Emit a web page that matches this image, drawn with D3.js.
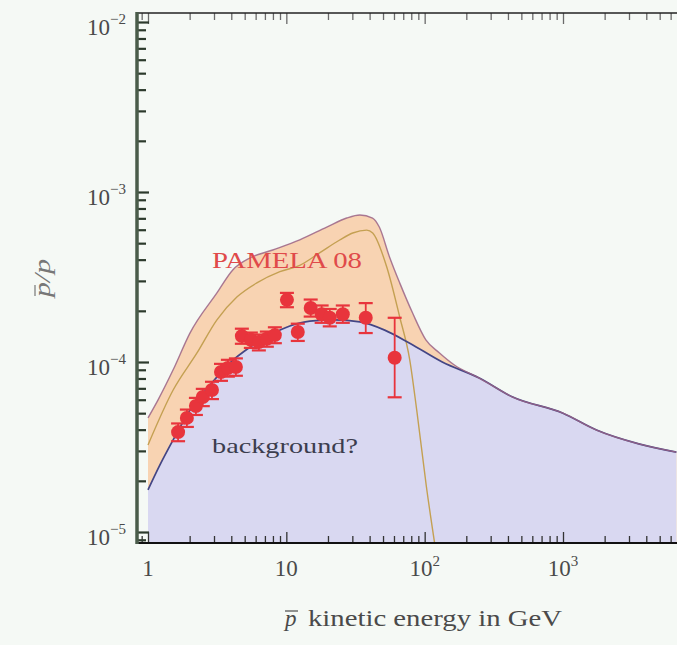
<!DOCTYPE html>
<html><head><meta charset="utf-8">
<script src="https://cdn.jsdelivr.net/npm/d3@7"></script>
<style>
html,body{margin:0;padding:0;background:#f5f9f5;}
svg{display:block;}
</style></head><body>
<svg id="c" width="677" height="645"></svg>
<script>
// ---------- data ----------
const bgE = [1, 1.22, 1.52, 2.01, 2.8, 3.9, 5.45, 7.6, 10.6, 14.8, 22.4, 34, 51.4, 78, 134, 248, 433, 1000, 1747, 3530, 6600];
const bgV = [1.77e-5, 2.48e-5, 3.48e-5, 5.2e-5, 7.3e-5, 9.86e-5, 1.22e-4, 1.44e-4, 1.63e-4, 1.74e-4, 1.77e-4, 1.72e-4, 1.54e-4, 1.29e-4, 1.0e-4, 8.05e-5, 6.22e-5, 5.0e-5, 3.98e-5, 3.3e-5, 2.95e-5];

const totE = [1, 1.18, 1.52, 2.01, 3.15, 4.1, 5.45, 7.97, 12.5, 19.6, 27.3, 34, 42, 47, 55.7, 66, 81.8, 102, 128, 164, 248, 433, 1000, 1747, 3530, 6600];
const totV = [4.69e-5, 5.97e-5, 9.0e-5, 1.48e-4, 2.55e-4, 3.48e-4, 4.09e-4, 4.56e-4, 5.23e-4, 6.22e-4, 7.03e-4, 7.32e-4, 7.03e-4, 6.22e-4, 4.15e-4, 2.92e-4, 1.94e-4, 1.35e-4, 1.13e-4, 9.6e-5, 8.05e-5, 6.22e-5, 5.0e-5, 3.98e-5, 3.3e-5, 2.95e-5];

const sigE = [1, 1.52, 2.26, 3.15, 4.39, 6.12, 8.98, 12.5, 17.5, 24.3, 30.2, 38.1, 42.1, 53.2, 66, 78, 87.6, 103, 118];
const sigV = [3.25e-5, 6.84e-5, 1.13e-4, 1.77e-4, 2.41e-4, 2.92e-4, 3.4e-4, 3.7e-4, 4.4e-4, 5.22e-4, 5.74e-4, 5.97e-4, 5.74e-4, 3.62e-4, 1.84e-4, 1.03e-4, 5.22e-5, 1.84e-5, 8.6e-6];

const pamE  = [1.65, 1.91, 2.22, 2.49, 2.90, 3.37, 3.78, 4.32, 4.77, 5.54, 6.33, 7.23, 8.26, 10.1, 12.1, 15.0, 18.0, 20.6, 25.6, 37.5, 60.7];
const pamV  = [3.87e-5, 4.69e-5, 5.51e-5, 6.22e-5, 6.84e-5, 8.73e-5, 9.22e-5, 9.35e-5, 1.42e-4, 1.35e-4, 1.31e-4, 1.37e-4, 1.44e-4, 2.32e-4, 1.50e-4, 2.08e-4, 1.91e-4, 1.82e-4, 1.91e-4, 1.82e-4, 1.06e-4];
const pamHi = [4.35e-5, 5.25e-5, 6.15e-5, 6.95e-5, 7.65e-5, 9.75e-5, 1.03e-4, 1.05e-4, 1.57e-4, 1.49e-4, 1.45e-4, 1.51e-4, 1.60e-4, 2.55e-4, 1.68e-4, 2.33e-4, 2.15e-4, 2.05e-4, 2.15e-4, 2.22e-4, 1.82e-4];
const pamLo = [3.42e-5, 4.15e-5, 4.88e-5, 5.5e-5, 6.05e-5, 7.75e-5, 8.2e-5, 8.3e-5, 1.28e-4, 1.21e-4, 1.17e-4, 1.23e-4, 1.29e-4, 2.1e-4, 1.33e-4, 1.85e-4, 1.70e-4, 1.62e-4, 1.70e-4, 1.48e-4, 6.2e-5];

const xTickValues = [1, 10, 100, 1000];
const xTickBase   = ["1", "10", "10", "10"];
const xTickSup    = ["", "", "2", "3"];
const yTickValues = [1e-5, 1e-4, 1e-3, 1e-2];
const yTickSup    = ["\u22125", "\u22124", "\u22123", "\u22122"];

(function () {
// ---------- layout ----------
const svg = d3.select("#c");
const L = 137, T = 13, B = 543, R = 700;
const x = d3.scaleLog().domain([1, 1000]).range([148, 563]);
const y = d3.scaleLog().domain([1e-5, 1e-3]).range([532, 192]);
const serif = "'Liberation Serif','Times New Roman',Tinos,serif";

svg.append("rect").attr("width", 677).attr("height", 645).attr("fill", "#f5f9f5");

svg.append("clipPath").attr("id", "clip").append("rect")
  .attr("x", L).attr("y", T).attr("width", R - L).attr("height", B - T);
const g = svg.append("g").attr("clip-path", "url(#clip)");

const zip = (E, V) => E.map((e, i) => [e, V[i]]);
const area = d3.area().x(d => x(d[0])).y0(B).y1(d => y(d[1])).curve(d3.curveMonotoneX);
const line = d3.line().x(d => x(d[0])).y(d => y(d[1])).curve(d3.curveMonotoneX);

g.append("path").datum(zip(totE, totV)).attr("d", area).attr("fill", "#f8d3b2");
g.append("path").datum(zip(bgE, bgV)).attr("d", area).attr("fill", "#d9d8f1");
g.append("path").datum(zip(sigE, sigV)).attr("d", line).attr("fill", "none")
  .attr("stroke", "#c4a052").attr("stroke-width", 1.4);
g.append("path").datum(zip(bgE, bgV)).attr("d", line).attr("fill", "none")
  .attr("stroke", "#434585").attr("stroke-width", 1.7);
g.append("path").datum(zip(totE, totV)).attr("d", line).attr("fill", "none")
  .attr("stroke", "#9b6486").attr("stroke-width", 1.4).attr("stroke-opacity", 0.85);

// data points
const red = "#e8343c";
const pts = g.append("g");
pamE.forEach((e, i) => {
  const cx = x(e);
  pts.append("line").attr("x1", cx).attr("x2", cx).attr("y1", y(pamLo[i])).attr("y2", y(pamHi[i]))
    .attr("stroke", red).attr("stroke-width", 1.8);
  [pamLo[i], pamHi[i]].forEach(v => {
    pts.append("line").attr("x1", cx - 7).attr("x2", cx + 7).attr("y1", y(v)).attr("y2", y(v))
      .attr("stroke", red).attr("stroke-width", 2.2);
  });
});
pamE.forEach((e, i) => {
  pts.append("circle").attr("cx", x(e)).attr("cy", y(pamV[i])).attr("r", 7).attr("fill", red);
});

// ---------- axes ----------
const xMinor = [], yMinor = [];
for (let d = 0.1; d <= 10000; d *= 10) for (let k = 2; k <= 9; k++) {
  const v = k * d; if (v >= 0.85 && v <= 7000) xMinor.push(v);
}
for (let d = 1e-6; d <= 1e-2; d *= 10) for (let k = 2; k <= 9; k++) {
  const v = k * d; if (v >= 8.7e-6 && v <= 1.12e-2) yMinor.push(v);
}

// bottom
const axB = svg.append("g").attr("transform", `translate(0,${B})`);
axB.call(d3.axisBottom(x).tickValues(xMinor).tickSize(-7).tickFormat(""));
axB.append("g").call(d3.axisBottom(x).tickValues(xTickValues).tickSize(-11).tickFormat(""));
axB.selectAll(".domain").remove();
axB.selectAll("line").attr("stroke", "#333").attr("stroke-width", 1.3);
// top
const axT = svg.append("g").attr("transform", `translate(0,${T})`);
axT.call(d3.axisTop(x).tickValues(xMinor).tickSize(-7).tickFormat(""));
axT.append("g").call(d3.axisTop(x).tickValues(xTickValues).tickSize(-11).tickFormat(""));
axT.selectAll(".domain").remove();
axT.selectAll("line").attr("stroke", "#6a6a6a").attr("stroke-width", 1.3);
// left
const axL = svg.append("g").attr("transform", `translate(${L},0)`);
axL.call(d3.axisLeft(y).tickValues(yMinor).tickSize(-9).tickFormat(""));
axL.append("g").call(d3.axisLeft(y).tickValues(yTickValues).tickSize(-12).tickFormat(""));
axL.selectAll(".domain").remove();
axL.selectAll("line").attr("stroke", "#2c3a2c").attr("stroke-width", 2.2);

// frame lines
svg.append("line").attr("x1", L).attr("x2", 677).attr("y1", T).attr("y2", T).attr("stroke", "#222").attr("stroke-width", 1.5);
svg.append("line").attr("x1", L).attr("x2", 677).attr("y1", B).attr("y2", B).attr("stroke", "#111").attr("stroke-width", 2);
svg.append("line").attr("x1", L).attr("x2", L).attr("y1", T - 1).attr("y2", B + 1).attr("stroke", "#4a5c4a").attr("stroke-width", 3.5);

// tick labels
const lab = "#4a4a4a";
xTickValues.forEach((v, i) => {
  const t = svg.append("text").attr("x", x(v)).attr("y", 576).attr("text-anchor", "middle")
    .attr("font-family", serif).attr("font-size", 23).attr("fill", lab).text(xTickBase[i]);
  if (xTickSup[i]) t.append("tspan").attr("dy", -10).attr("font-size", 15).text(xTickSup[i]);
});
yTickValues.forEach((v, i) => {
  const t = svg.append("text").attr("x", 126).attr("y", y(v) + 13).attr("text-anchor", "end")
    .attr("font-family", serif).attr("font-size", 23).attr("fill", lab).text("10");
  t.append("tspan").attr("dy", -11).attr("font-size", 15).text(yTickSup[i]);
});

// axis titles
svg.append("text").attr("x", 285).attr("y", 626).attr("font-family", serif).attr("font-style", "italic")
  .attr("font-size", 23).attr("fill", lab).text("p");
svg.append("line").attr("x1", 285).attr("x2", 298).attr("y1", 611).attr("y2", 611).attr("stroke", lab).attr("stroke-width", 1.2);
svg.append("text").attr("x", 308).attr("y", 626).attr("font-family", serif)
  .attr("font-size", 23).attr("fill", lab).attr("textLength", 254).attr("lengthAdjust", "spacingAndGlyphs")
  .text("kinetic energy in GeV");

const yt = svg.append("g").attr("transform", "translate(50,297) rotate(-90)");
yt.append("text").attr("x", 0).attr("y", 0).attr("font-family", serif).attr("font-style", "italic")
  .attr("font-size", 23).attr("fill", "#777").attr("textLength", 38).attr("lengthAdjust", "spacingAndGlyphs").text("p/p");
yt.append("line").attr("x1", 1).attr("x2", 12).attr("y1", -15).attr("y2", -15).attr("stroke", "#777").attr("stroke-width", 1.2);

// annotations
svg.append("text").attr("x", 212).attr("y", 268).attr("font-family", serif).attr("font-size", 23)
  .attr("fill", "#e04a4a").attr("textLength", 150).attr("lengthAdjust", "spacingAndGlyphs").text("PAMELA 08");
svg.append("text").attr("x", 212).attr("y", 453).attr("font-family", serif).attr("font-size", 21)
  .attr("fill", "#3c3d4e").attr("textLength", 146).attr("lengthAdjust", "spacingAndGlyphs").text("background?");
})();
</script>
</body></html>
